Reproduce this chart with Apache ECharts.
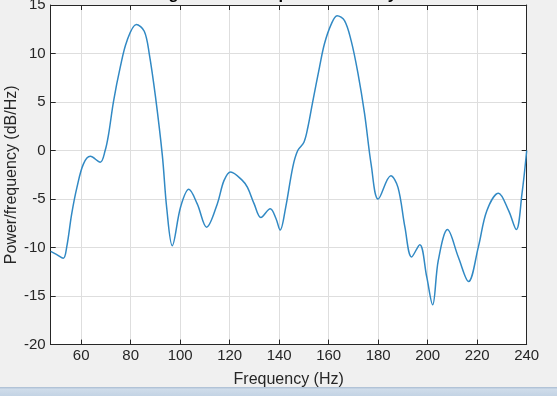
<!DOCTYPE html>
<html>
<head>
<meta charset="utf-8">
<script src="https://cdn.jsdelivr.net/npm/echarts@6/dist/echarts.min.js"></script>
<style>
html,body{margin:0;padding:0;background:#f0f0f0;}
#c{width:557px;height:396px;}
</style>
</head>
<body>
<div id="c"></div>
<script>
// Data
var freqs = [47.7, 50, 52.8, 54.2, 56.2, 58.3, 60.9, 63.7, 67.7, 69.7, 71.1, 73.1, 75.8, 78.5, 82.3, 85.5, 87.5, 90, 92.8, 94.6, 96.8, 100.2, 103.5, 106.9, 110.7, 115, 117.7, 120.4, 125.2, 127.2, 129.9, 132.6, 136.4, 138.7, 140.4, 142.6, 145.5, 147.5, 150, 151.6, 153.6, 156.3, 158.3, 161, 163.4, 166.4, 169.1, 171.8, 174.5, 177.2, 180, 185.1, 188, 190.8, 193.5, 196.8, 199.6, 202, 204.3, 208, 212.4, 216.5, 220.5, 223.9, 228.6, 232.7, 235.8, 238.1, 240];
var power = [-10.4, -10.7, -11.1, -9.9, -6.5, -3.8, -1.4, -0.6, -1.2, 0, 1.7, 5.1, 8.6, 11.3, 13.0, 12.3, 10.0, 5.6, -0.5, -6.0, -9.8, -5.8, -4.0, -5.5, -7.9, -5.5, -3.1, -2.2, -3.1, -3.8, -5.5, -6.9, -6.0, -7.0, -8.2, -5.9, -1.7, 0, 0.85, 2.4, 5.1, 8.6, 11.0, 13.0, 13.9, 13.4, 11.3, 8.0, 3.8, -1.5, -5.0, -2.6, -3.8, -7.9, -10.97, -9.7, -13.0, -15.9, -11.3, -8.15, -11.0, -13.5, -9.9, -6.2, -4.4, -6.2, -8.15, -4.45, 0];
var xTicks = [60, 80, 100, 120, 140, 160, 180, 200, 220, 240];
var yTicks = [-20, -15, -10, -5, 0, 5, 10, 15];
var titleText = 'Periodogram Power Spectral Density Estimate';
var xName = 'Frequency (Hz)';
var yName = 'Power/frequency (dB/Hz)';

var pts = freqs.map(function (f, i) { return [f, power[i]]; });

var FONT = '"Liberation Sans", Arial, sans-serif';
var TXT = '#262626';
var GRIDC = '#dedede';

var chart = echarts.init(document.getElementById('c'), null, {renderer: 'canvas'});
var xMin = 47.7, xMax = 240;
var yMin = yTicks[0], yMax = yTicks[yTicks.length - 1];

function xAxisDef(pos, main) {
  return {
    type: 'value', position: pos, min: xMin, max: xMax,
    name: main ? xName : '', nameLocation: 'middle', nameGap: 27, nameMoveOverlap: false,
    nameTextStyle: {fontFamily: FONT, fontSize: 16, color: TXT},
    axisLine: {show: true, onZero: false, lineStyle: {color: TXT, width: 1}},
    axisTick: {show: true, inside: true, length: 5, customValues: xTicks, lineStyle: {color: TXT}},
    axisLabel: {show: main, customValues: xTicks, margin: 4, fontFamily: FONT, fontSize: 15, color: TXT},
    splitLine: {show: main, lineStyle: {color: GRIDC, width: 1}}
  };
}
function yAxisDef(pos, main) {
  return {
    type: 'value', position: pos, min: yMin, max: yMax, interval: 5,
    name: main ? yName : '', nameLocation: 'middle', nameGap: 31, nameMoveOverlap: false,
    nameTextStyle: {fontFamily: FONT, fontSize: 16, color: TXT},
    axisLine: {show: true, onZero: false, lineStyle: {color: TXT, width: 1}},
    axisTick: {show: true, inside: true, length: 5, lineStyle: {color: TXT}},
    axisLabel: {show: main, margin: 5, fontFamily: FONT, fontSize: 15, color: TXT},
    splitLine: {show: main, lineStyle: {color: GRIDC, width: 1}}
  };
}

chart.setOption({
  backgroundColor: '#f0f0f0',
  animation: false,
  grid: {left: 50.7, right: 30.3, top: 5, bottom: 51.4, containLabel: false, outerBoundsMode: 'none',
    show: true, backgroundColor: '#ffffff', borderWidth: 0},
  xAxis: [xAxisDef('bottom', true), xAxisDef('top', false)],
  yAxis: [yAxisDef('left', true), yAxisDef('right', false)],
  graphic: [
    {type: 'text', x: 288.7, y: -6, z: 100,
      style: {text: titleText, fontFamily: FONT, fontSize: 16.5, fontWeight: 'bold', fill: '#000', align: 'center', verticalAlign: 'middle'}},
    {type: 'rect', shape: {x: 0, y: 387, width: 557, height: 9}, z: 100,
      style: {fill: new echarts.graphic.LinearGradient(0, 0, 0, 1, [{offset: 0, color: '#a9bcd2'}, {offset: 0.25, color: '#cfdcea'}, {offset: 1, color: '#c3d3e4'}])}}
  ],
  series: [{
    type: 'line', data: pts, xAxisIndex: 0, yAxisIndex: 0,
    smooth: 0.35, symbol: 'none', clip: true,
    lineStyle: {color: '#3189c4', width: 1.5}
  }]
});
</script>
</body>
</html>
